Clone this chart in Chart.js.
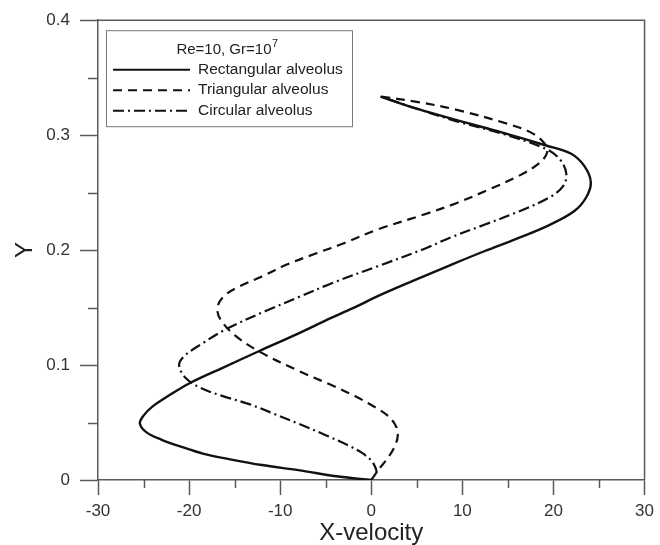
<!DOCTYPE html>
<html>
<head>
<meta charset="utf-8">
<script src="https://cdn.jsdelivr.net/npm/chart.js@4"></script>
<style>
  html, body { margin: 0; padding: 0; background: #fff; }
  #wrap { width: 660px; height: 545px; }
</style>
</head>
<body>
<div id="wrap"><canvas id="profile"></canvas></div>
<script>
// X-velocity profiles across the channel (Y)
const rectY = [0, 0.003, 0.0086, 0.013, 0.018, 0.023, 0.029, 0.035, 0.041, 0.049, 0.056, 0.064, 0.073, 0.084, 0.098, 0.112, 0.126, 0.141, 0.151, 0.160, 0.173, 0.187, 0.199, 0.210, 0.222, 0.234, 0.246, 0.259, 0.273, 0.284, 0.291, 0.302, 0.313, 0.323, 0.3336]
const rectX = [0, -3.6, -8.0, -12, -15.5, -18.5, -20.9, -23, -24.6, -25.4, -25, -24, -22.3, -20, -16.2, -12.35, -8.4, -4.4, -1.6, 0.72, 4.5, 8.7, 12.4, 16, 19.6, 22.3, 23.6, 24.1, 23.4, 21.9, 19.2, 14.5, 9.4, 5, 1.0]

const triY = [0, 0.01, 0.019, 0.028, 0.038, 0.047, 0.056, 0.063, 0.073, 0.083, 0.095, 0.112, 0.126, 0.139, 0.149, 0.159, 0.168, 0.177, 0.187, 0.197, 0.206, 0.218, 0.231, 0.241, 0.253, 0.265, 0.276, 0.285, 0.293, 0.302, 0.31, 0.322, 0.329, 0.3336]
const triX = [0, 0.9, 1.8, 2.5, 2.9, 2.7, 1.8, 0.5, -1.8, -4.5, -8, -12.35, -15, -16.5, -16.9, -16.3, -14.6, -12, -9.4, -6.1, -3, 0.72, 5.8, 9.4, 13, 16.3, 18.5, 19.3, 19.0, 17.6, 14.9, 9.4, 5, 1.0]

const circY = [0.006, 0.01, 0.017, 0.024, 0.03, 0.039, 0.049, 0.058, 0.066, 0.073, 0.08, 0.089, 0.1, 0.108, 0.119, 0.131, 0.147, 0.159, 0.171, 0.186, 0.201, 0.211, 0.222, 0.233, 0.246, 0.256, 0.267, 0.279, 0.288, 0.301, 0.312, 0.323, 0.3336]
const circX = [0.6, 0.5, 0, -1.1, -2.5, -5, -8, -10.8, -13.4, -16.3, -18.7, -20.4, -21.1, -20.5, -18.5, -16, -11.6, -8, -4.4, 0.72, 5.8, 8.7, 12.4, 16, 19.6, 21.1, 21.4, 20.7, 19.2, 14.5, 9.4, 5, 1.0]

const xTicks = [-30, -20, -10, 0, 10, 20, 30]
const xMinor = [-25, -15, -5, 5, 15, 25]
const yTicks = [0, 0.1, 0.2, 0.3, 0.4]
const yMinor = [0.05, 0.15, 0.25, 0.35]

const legendTitle = 'Re=10, Gr=10'
const legendTitleSup = '7'

const FONT = '"Liberation Sans", Arial, sans-serif'
const AXIS = '#5a5a5a'

const pts = (xs, ys) => xs.map((x, i) => ({ x, y: ys[i] }))

// minor ticks, frame, and the boxed legend
const extras = {
  id: 'extras',
  afterDraw(chart) {
    const { ctx, chartArea: a, scales: { x, y } } = chart
    ctx.save()
    ctx.strokeStyle = AXIS
    ctx.lineWidth = 1.5
    ctx.beginPath()
    xMinor.forEach(v => {
      const px = Math.round(x.getPixelForValue(v)) + 0.5
      ctx.moveTo(px, a.bottom); ctx.lineTo(px, a.bottom + 8)
    })
    yMinor.forEach(v => {
      const py = Math.round(y.getPixelForValue(v)) + 0.5
      ctx.moveTo(a.left - 10, py); ctx.lineTo(a.left, py)
    })
    ctx.stroke()
    ctx.beginPath()
    ctx.moveTo(a.left, a.top); ctx.lineTo(a.right, a.top); ctx.lineTo(a.right, a.bottom)
    ctx.stroke()

    // legend
    const lx = a.left + 8, ly = a.top + 10
    ctx.strokeStyle = '#7a7a7a'
    ctx.lineWidth = 1
    ctx.strokeRect(lx + 0.5, ly + 0.5, 246, 96)
    ctx.fillStyle = '#222'
    ctx.textBaseline = 'middle'
    ctx.textAlign = 'left'
    ctx.font = '15px ' + FONT
    const tw = ctx.measureText(legendTitle).width
    ctx.font = '11px ' + FONT
    const sw = ctx.measureText(legendTitleSup).width
    const tx = lx + 121 - (tw + sw) / 2
    ctx.font = '15px ' + FONT
    ctx.fillText(legendTitle, tx, ly + 20)
    ctx.font = '11px ' + FONT
    ctx.fillText(legendTitleSup, tx + tw + 0.5, ly + 14)
    ctx.font = '15.5px ' + FONT
    chart.data.datasets.forEach((ds, i) => {
      const yy = ly + 39.5 + i * 20.5
      ctx.strokeStyle = ds.borderColor
      ctx.lineWidth = 2
      ctx.setLineDash(ds.borderDash || [])
      ctx.beginPath()
      ctx.moveTo(lx + 7, yy); ctx.lineTo(lx + 84, yy)
      ctx.stroke()
      ctx.setLineDash([])
      ctx.fillText(ds.label, lx + 92, yy)
    })
    ctx.restore()
  }
}

const chartId = document.getElementById('profile')

new Chart(chartId, {
  type: 'scatter',
  data: {
    datasets: [
      {
        label: 'Rectangular alveolus',
        data: pts(rectX, rectY),
        borderColor: '#111',
        borderWidth: 2.4,
      },
      {
        label: 'Triangular alveolus',
        data: pts(triX, triY),
        borderColor: '#111',
        borderWidth: 2.2,
        borderDash: [9, 6],
      },
      {
        label: 'Circular alveolus',
        data: pts(circX, circY),
        borderColor: '#111',
        borderWidth: 2.2,
        borderDash: [11, 4, 2, 4],
      },
    ]
  },
  options: {
    responsive: true,
    maintainAspectRatio: false,
    animation: false,
    layout: { padding: { top: 16, right: 11, left: 0, bottom: 0 } },
    elements: {
      point: { radius: 0, hoverRadius: 0 },
      line: { tension: 0.35, fill: false },
    },
    datasets: { scatter: { showLine: true } },
    plugins: {
      legend: { display: false },
      tooltip: { enabled: false },
    },
    scales: {
      x: {
        type: 'linear',
        min: -30,
        max: 30,
        afterBuildTicks: s => { s.ticks = xTicks.map(value => ({ value })) },
        afterFit: s => { s.height = 65 },
        ticks: { color: '#333', font: { family: FONT, size: 17 }, padding: 6, maxRotation: 0 },
        grid: { drawOnChartArea: false, tickLength: 15, tickColor: AXIS, tickWidth: 1.5 },
        border: { color: AXIS, width: 1.5 },
        title: { display: true, text: 'X-velocity', color: '#222', font: { family: FONT, size: 24, lineHeight: 1 }, padding: { top: 0, bottom: 0 } },
      },
      y: {
        type: 'linear',
        min: 0,
        max: 0.4,
        afterBuildTicks: s => { s.ticks = yTicks.map(value => ({ value })) },
        afterFit: s => { s.width = 98 },
        ticks: { color: '#333', font: { family: FONT, size: 17 }, padding: 10 },
        grid: { drawOnChartArea: false, tickLength: 18, tickColor: AXIS, tickWidth: 1.5 },
        border: { color: AXIS, width: 1.5 },
        title: { display: true, text: 'Y', color: '#222', font: { family: FONT, size: 24, lineHeight: 1 }, padding: { top: 13, bottom: 0 } },
      },
    },
  },
  plugins: [extras],
})
</script>
</body>
</html>
